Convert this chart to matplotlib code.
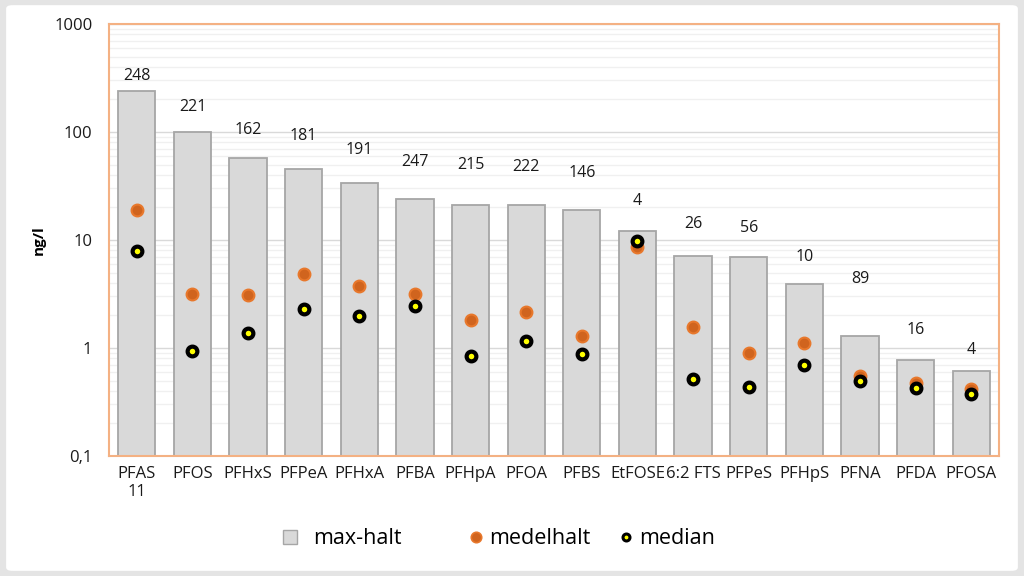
import matplotlib.pyplot as plt
from matplotlib.patches import FancyBboxPatch, Patch
from matplotlib.lines import Line2D
from matplotlib.ticker import LogLocator, FixedLocator, NullFormatter

plt.rcParams['font.family'] = ['Open Sans', 'DejaVu Sans']

# ämnen och värden (ng/l)
substances = ["PFAS\n11", "PFOS", "PFHxS", "PFPeA", "PFHxA", "PFBA", "PFHpA", "PFOA",
              "PFBS", "EtFOSE", "6:2 FTS", "PFPeS", "PFHpS", "PFNA", "PFDA", "PFOSA"]
max_halt = [240, 100, 57, 45, 34, 24, 21, 21, 19, 12.1, 7.1, 7.0, 3.9, 1.3, 0.77, 0.61]
medel_halt = [19, 3.15, 3.1, 4.8, 3.75, 3.15, 1.82, 2.15, 1.3, 8.6, 1.56, 0.90, 1.11, 0.55, 0.47, 0.42]
median = [7.9, 0.94, 1.38, 2.3, 1.98, 2.45, 0.84, 1.16, 0.88, 9.8, 0.52, 0.435, 0.70, 0.49, 0.43, 0.375]
n_prov = [248, 221, 162, 181, 191, 247, 215, 222, 146, 4, 26, 56, 10, 89, 16, 4]

# avstånd (pt) mellan stapeltopp och etikett
label_pad = [5, 12, 15, 18, 18, 20.5, 23, 22, 20.5, 16, 17, 15, 14, 35, 16, 9.5]

MEDEL_FC, MEDEL_EC = '#d0641e', '#e8782c'

fig = plt.figure(figsize=(10.24, 5.76), dpi=100)
fig.patch.set_facecolor('#e4e4e4')
bg = FancyBboxPatch((0.006, 0.009), 0.988, 0.982, boxstyle="round,pad=0,rounding_size=0.006",
                    transform=fig.transFigure, facecolor='white', edgecolor='none')
bg.set_zorder(-10)
fig.add_artist(bg)

ax = fig.add_axes([109/1024, 1 - 456/576, 890/1024, 432/576])
ax.set_facecolor('white')
x = list(range(len(substances)))

ax.bar(x, max_halt, width=0.67, color='#d9d9d9', edgecolor='#a6a6a6', linewidth=1.3, zorder=2)
ax.plot(x, medel_halt, linestyle='none', marker='o', markersize=8.5, markerfacecolor=MEDEL_FC,
        markeredgecolor=MEDEL_EC, markeredgewidth=1.5, zorder=3)
ax.plot(x, median, linestyle='none', marker='o', markersize=7, markerfacecolor='#ffff00',
        markeredgecolor='black', markeredgewidth=3, zorder=4)

for xi, v, n, pad in zip(x, max_halt, n_prov, label_pad):
    ax.annotate(str(n), (xi, v), xytext=(0, pad), textcoords='offset points',
                ha='center', va='bottom', fontsize=11.5, color='#1a1a1a')

ax.set_yscale('log')
ax.set_ylim(0.1, 1000)
ax.set_xlim(-0.5, len(substances) - 0.5)
ax.yaxis.set_major_locator(FixedLocator([0.1, 1, 10, 100, 1000]))
ax.set_yticklabels(["0,1", "1", "10", "100", "1000"])
ax.yaxis.set_minor_locator(LogLocator(base=10, subs=range(2, 10)))
ax.yaxis.set_minor_formatter(NullFormatter())
ax.grid(which='major', axis='y', color='#d9d9d9', linewidth=1, zorder=0)
ax.grid(which='minor', axis='y', color='#f0f0f0', linewidth=1, zorder=0)
ax.set_axisbelow(True)
ax.tick_params(axis='both', which='both', length=0, labelsize=12, colors='#1a1a1a')
ax.tick_params(axis='y', pad=12)
ax.tick_params(axis='x', pad=7)
ax.set_xticks(x)
ax.set_xticklabels(substances)
ax.set_ylabel("ng/l", fontsize=11, fontweight='bold', labelpad=6)
for s in ax.spines.values():
    s.set_color('#f4b183')
    s.set_linewidth(1.5)

# förklaring: tre separata delar för att få Excel-avstånden
leg_items = [
    (Patch(facecolor='#d9d9d9', edgecolor='#a6a6a6', label='max-halt'), 283, 0.75),
    (Line2D([], [], linestyle='none', marker='o', markersize=7.5, markerfacecolor=MEDEL_FC,
            markeredgecolor=MEDEL_EC, markeredgewidth=1.2, label='medelhalt'), 469, 0.3),
    (Line2D([], [], linestyle='none', marker='o', markersize=5, markerfacecolor='#ffff00',
            markeredgecolor='black', markeredgewidth=2.2, label='median'), 619, 0.3),
]
for h, x0, tp in leg_items:
    fig.legend(handles=[h], loc='center left', bbox_to_anchor=(x0 / 1024, 1 - 539 / 576),
               frameon=False, fontsize=15.5, handlelength=0.65, handleheight=0.65,
               handletextpad=tp, borderpad=0, borderaxespad=0)

fig.savefig('out.png', dpi=100, facecolor=fig.get_facecolor())
